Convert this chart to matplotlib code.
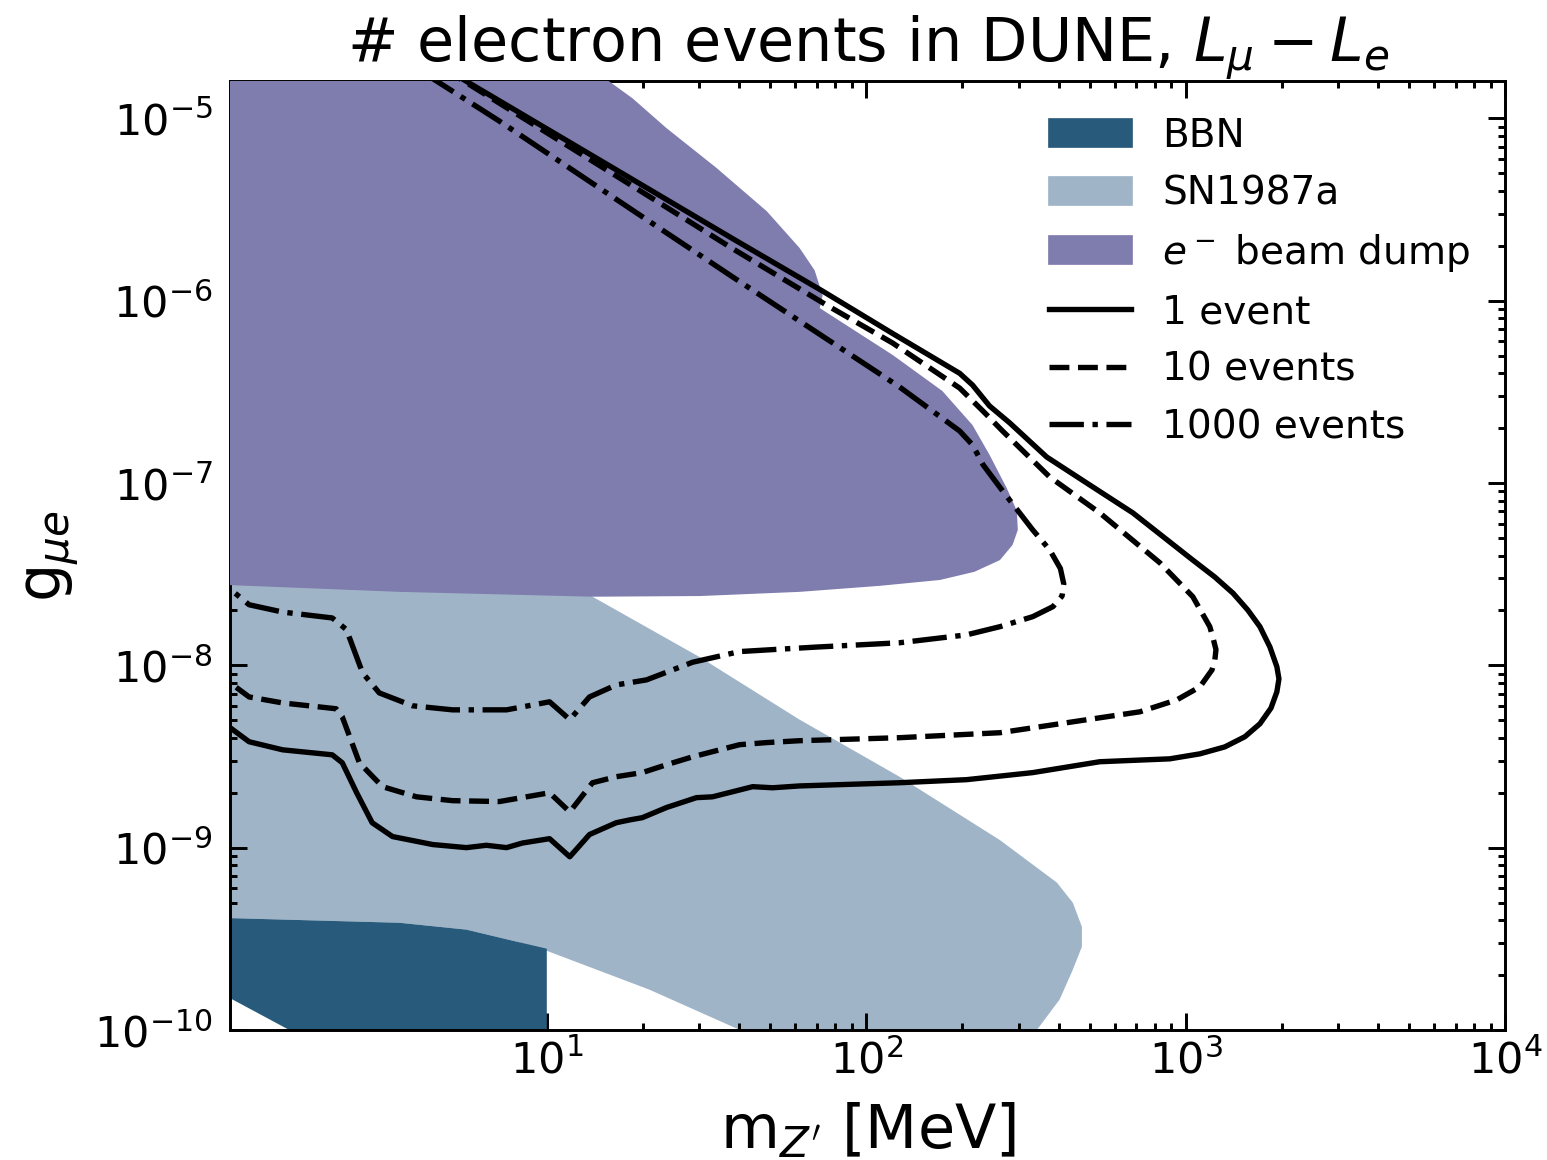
import matplotlib
matplotlib.use("Agg")
import matplotlib.pyplot as plt
from matplotlib.patches import Patch
from matplotlib.lines import Line2D

# ---- excluded regions: Z' mass [MeV] and coupling g_mu_e ----
bbn_m = [0.9, 3.46, 5.60, 8.04, 10.0, 10.0, 1.98, 0.9]
bbn_g = [4.13e-10, 3.87e-10, 3.55e-10, 3.05e-10, 2.79e-10, 8e-11, 8e-11, 1.68e-10]

sn_m = [0.9, 13.9, 30.1, 61.8, 127, 262, 395, 443, 473, 473, 443, 403, 342, 302,
        50.9, 38.2, 21.0, 9.98, 8.04, 5.60, 3.46, 0.9]
sn_g = [3.0e-7, 2.38e-8, 1.11e-8, 5.04e-9, 2.45e-9, 1.10e-9, 6.43e-10, 4.99e-10,
        3.68e-10, 2.86e-10, 2.14e-10, 1.47e-10, 1.0e-10, 8.3e-11,
        8.3e-11, 1.04e-10, 1.66e-10, 2.72e-10, 3.05e-10, 3.55e-10, 3.87e-10, 4.13e-10]

dump_m = [0.9, 14.6, 18.55, 23.7, 34.0, 48.8, 61.8, 68.9, 73.0, 71.5, 121, 173, 215,
          243, 275, 296, 298, 287, 262, 218, 170, 110, 61.8, 30.1, 13.9, 3.46, 0.9]
dump_g = [2e-5, 1.75e-5, 1.29e-5, 8.85e-6, 5.35e-6, 3.10e-6, 1.95e-6, 1.47e-6, 1.07e-6,
          9.12e-7, 5.04e-7, 3.20e-7, 2.08e-7, 1.43e-7, 9.40e-8, 7.03e-8, 5.53e-8,
          4.58e-8, 3.78e-8, 3.26e-8, 2.94e-8, 2.73e-8, 2.53e-8, 2.40e-8, 2.38e-8,
          2.53e-8, 2.78e-8]

# ---- DUNE electron-event contours ----
ev1_m = [4.96, 5.60, 18.55, 38.2, 73.0, 121, 196, 215, 243, 281, 367, 490, 683, 1052,
         1233, 1405, 1564, 1706, 1834, 1928, 1957, 1928, 1848, 1706, 1531, 1325, 1107,
         891, 538, 332, 206, 127, 61.8,
         50.9, 44.1, 33.0, 29.4, 23.7, 19.9, 18.2, 16.5, 13.6, 11.8, 10.2, 8.39, 7.48,
         6.47, 5.60, 4.39, 3.29, 2.84, 2.54, 2.29, 2.13, 1.49, 1.17, 1.01, 0.95]
ev1_g = [1.82e-5, 1.6e-5, 4.63e-6, 2.19e-6, 1.13e-6, 6.61e-7, 4.0e-7, 3.45e-7, 2.65e-7,
         2.14e-7, 1.39e-7, 1.0e-7, 6.86e-8, 3.78e-8,
         3.05e-8, 2.49e-8, 2.01e-8, 1.63e-8, 1.26e-8, 9.82e-9, 8.43e-9, 7.16e-9, 5.83e-9,
         4.78e-9, 4.06e-9, 3.57e-9, 3.27e-9, 3.07e-9, 2.96e-9, 2.58e-9, 2.36e-9, 2.27e-9,
         2.18e-9, 2.13e-9, 2.16e-9, 1.90e-9, 1.88e-9, 1.66e-9, 1.46e-9, 1.42e-9, 1.37e-9,
         1.18e-9, 8.91e-10, 1.12e-9, 1.06e-9, 1.0e-9, 1.03e-9, 1.0e-9, 1.04e-9, 1.15e-9,
         1.37e-9, 2.0e-9, 2.92e-9, 3.23e-9, 3.44e-9, 3.81e-9, 4.61e-9, 5.0e-9]

ev10_m = [4.78, 18.55, 38.2, 75.2, 121, 196, 232, 267, 375, 538, 830, 1052, 1189, 1216,
          1243, 1233, 1208, 1107, 938, 718, 512, 262, 127, 61.8, 48.8, 40.1, 28.6, 23.7,
          19.9, 16.5, 13.9, 11.8, 10.2, 7.11, 5.07, 3.91, 3.06, 2.59, 2.29, 2.19, 1.49,
          1.17, 1.01, 0.95]
ev10_g = [1.87e-5, 4.26e-6, 1.93e-6, 9.46e-7, 5.86e-7, 3.32e-7, 2.48e-7, 1.93e-7,
          1.08e-7, 6.86e-8, 3.65e-8, 2.38e-8, 1.63e-8, 1.42e-8, 1.22e-8, 1.07e-8,
          9.44e-9, 7.62e-9, 6.47e-9, 5.56e-9, 5.09e-9, 4.27e-9, 4.01e-9, 3.86e-9,
          3.77e-9, 3.67e-9, 3.15e-9, 2.85e-9, 2.58e-9, 2.45e-9, 2.27e-9, 1.57e-9,
          2.0e-9, 1.79e-9, 1.81e-9, 1.90e-9, 2.16e-9, 2.92e-9, 5.22e-9, 5.78e-9,
          6.22e-9, 6.71e-9, 8.13e-9, 8.8e-9]

ev1000_m = [4.14, 7.11, 18.55, 38.2, 73.0, 127, 196, 215, 232, 267, 332, 375, 405, 415,
            410, 384, 332, 262, 206, 127, 69.9, 50.9, 40.1, 28.6, 20.5, 16.5, 13.6,
            11.8, 10.2, 7.48, 5.07, 3.80, 2.99, 2.65, 2.36, 2.13, 1.49, 1.17, 1.01, 0.95]
ev1000_g = [1.77e-5, 9.67e-6, 3.14e-6, 1.35e-6, 6.39e-7, 3.37e-7, 1.93e-7, 1.62e-7,
            1.26e-7, 9.06e-8, 5.53e-8, 4.30e-8, 3.40e-8, 2.80e-8, 2.40e-8, 2.10e-8,
            1.85e-8, 1.63e-8, 1.47e-8, 1.33e-8, 1.26e-8, 1.22e-8, 1.19e-8, 1.04e-8,
            8.32e-9, 7.81e-9, 6.71e-9, 5.04e-9, 6.31e-9, 5.70e-9, 5.70e-9, 6.0e-9,
            7.06e-9, 9.10e-9, 1.57e-8, 1.82e-8, 1.96e-8, 2.15e-8, 2.66e-8, 2.9e-8]

region_labels = ["BBN", "SN1987a", r"$e^-$ beam dump"]
region_colors = ["#285a7b", "#a0b4c8", "#7f7cae"]
curve_labels = ["1 event", "10 events", "1000 events"]
curve_styles = ["-", "--", "-."]

fig = plt.figure(figsize=(8, 6), dpi=193.4)
ax = fig.add_axes([0.1487, 0.1121, 0.8242, 0.8175])

ax.fill(sn_m, sn_g, color=region_colors[1], lw=0, zorder=1)
ax.fill(bbn_m, bbn_g, color=region_colors[0], lw=0, zorder=2)
ax.fill(dump_m, dump_g, color=region_colors[2], lw=0, zorder=3)

for (m, g), ls in zip([(ev1_m, ev1_g), (ev10_m, ev10_g), (ev1000_m, ev1000_g)],
                      curve_styles):
    ax.plot(m, g, color="black", ls=ls, lw=2, zorder=4)

ax.set_xscale("log")
ax.set_yscale("log")
ax.set_xlim(1.02, 1e4)
ax.set_ylim(1e-10, 1.6e-5)

for s in ax.spines.values():
    s.set_linewidth(1.1)
ax.tick_params(which="both", direction="in", top=True, right=True, labelsize=16,
               width=1.1)
ax.tick_params(which="major", length=6.3)
ax.tick_params(which="minor", length=2.6)
ax.tick_params(axis="y", which="major", pad=6.5)

ax.set_title(r"# electron events in DUNE, $L_\mu - L_e$", fontsize=22.5)
ax.set_xlabel(r"m$_{Z'}$ [MeV]", fontsize=22.5, labelpad=7)
ax.set_ylabel(r"g$_{\mu e}$", fontsize=22.5, labelpad=5)

handles = [Patch(color=c, label=l) for c, l in zip(region_colors, region_labels)]
handles += [Line2D([], [], color="black", ls=ls, lw=2, label=l)
            for ls, l in zip(curve_styles, curve_labels)]
ax.legend(handles=handles, loc="upper right", frameon=False, fontsize=14.5,
          labelspacing=0.5, handlelength=2.1)

fig.savefig("out.png", dpi=193.4)
